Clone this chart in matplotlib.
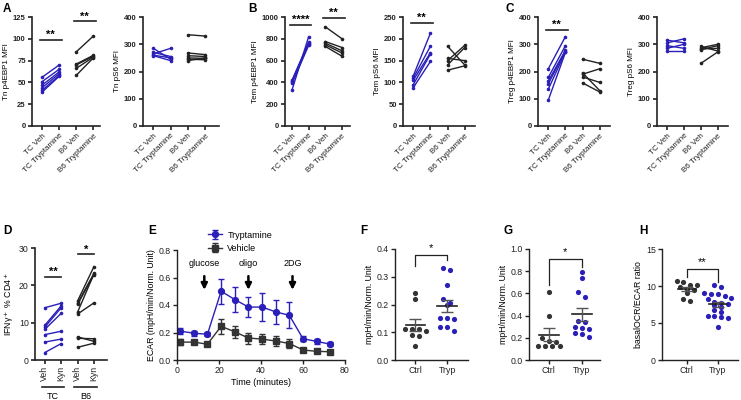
import matplotlib

matplotlib.use("Agg")
import matplotlib.pyplot as plt
import matplotlib.transforms as mtransforms
import numpy as np

plt.rcParams["font.family"] = ["Liberation Sans", "DejaVu Sans"]

BLUE = "#2A1FB8"
DARK = "#222222"
W, H = 741, 400

# ---- top row: paired MFI per donor (Veh -> Tryptamine) ----
PAIR_LABELS = ["TC Veh", "TC Tryptamine", "B6 Veh", "B6 Tryptamine"]

tn_4e_tc_veh = [56, 51, 47, 44, 41, 39]
tn_4e_tc_tryp = [70, 65, 62, 60, 58, 57]
tn_4e_b6_veh = [85, 71, 70, 66, 58]
tn_4e_b6_tryp = [103, 81, 80, 79, 78]

tn_s6_tc_veh = [285, 270, 265, 260, 258]
tn_s6_tc_tryp = [245, 255, 285, 250, 240]
tn_s6_b6_veh = [335, 268, 258, 250, 245, 240]
tn_s6_b6_tryp = [330, 262, 255, 248, 243, 250]

tem_4e_tc_veh = [420, 410, 400, 390, 330]
tem_4e_tc_tryp = [770, 760, 750, 740, 820]
tem_4e_b6_veh = [910, 775, 760, 745, 730]
tem_4e_b6_tryp = [800, 720, 690, 670, 640]

tem_s6_tc_veh = [115, 110, 105, 95, 88]
tem_s6_tc_tryp = [213, 183, 168, 165, 148]
tem_s6_b6_veh = [183, 155, 150, 140, 128]
tem_s6_b6_tryp = [140, 150, 185, 180, 138]

treg_4e_tc_veh = [210, 178, 165, 155, 135, 95]
treg_4e_tc_tryp = [328, 295, 278, 275, 272, 270]
treg_4e_b6_veh = [245, 195, 190, 180, 158]
treg_4e_b6_tryp = [230, 130, 210, 160, 125]

treg_s6_tc_veh = [315, 305, 295, 285, 275]
treg_s6_tc_tryp = [305, 320, 285, 300, 275]
treg_s6_b6_veh = [292, 287, 283, 280, 230]
treg_s6_b6_tryp = [275, 300, 285, 295, 272]

# ---- D: IFNg+ % CD4+ ----
D_LABELS = ["Veh", "Kyn", "Veh", "Kyn"]
ifng_tc_veh = [14.0, 9.3, 8.8, 8.2, 6.8, 4.8, 2.0]
ifng_tc_kyn = [15.2, 14.5, 14.0, 12.5, 7.7, 5.6, 4.4]
ifng_b6_veh = [15.8, 15.2, 14.9, 12.8, 12.3, 6.2, 5.8, 3.4]
ifng_b6_kyn = [25.0, 23.2, 22.8, 23.0, 15.3, 5.0, 5.7, 4.5]

# ---- E: ECAR time course ----
time_min = [1.5, 8, 14.5, 21, 27.5, 34, 40.5, 47, 53.5, 60, 66.5, 73]
tryp_ecar = [0.21, 0.195, 0.187, 0.50, 0.44, 0.385, 0.385, 0.35, 0.325, 0.155, 0.135, 0.115]
tryp_sem = [0.02, 0.018, 0.015, 0.09, 0.09, 0.075, 0.10, 0.09, 0.095, 0.02, 0.015, 0.015]
veh_ecar = [0.13, 0.13, 0.115, 0.245, 0.205, 0.16, 0.152, 0.138, 0.12, 0.073, 0.063, 0.06]
veh_sem = [0.02, 0.015, 0.015, 0.055, 0.045, 0.04, 0.035, 0.035, 0.035, 0.015, 0.012, 0.012]
injections = [("glucose", 13), ("oligo", 34), ("2DG", 55)]

# ---- F, G, H: Ctrl vs Tryp dot plots ----
f_ctrl = [0.24, 0.22, 0.113, 0.112, 0.11, 0.105, 0.09, 0.087, 0.05]
f_tryp = [0.33, 0.325, 0.27, 0.22, 0.205, 0.2, 0.15, 0.15, 0.148, 0.12, 0.12, 0.105]
g_ctrl = [0.61, 0.40, 0.20, 0.17, 0.16, 0.13, 0.13, 0.13, 0.13]
g_tryp = [0.79, 0.74, 0.61, 0.57, 0.35, 0.34, 0.30, 0.29, 0.28, 0.24, 0.23, 0.21]
h_ctrl = [10.7, 10.6, 10.2, 10.1, 9.9, 9.6, 9.5, 9.0, 8.3, 8.0]
h_tryp = [10.1, 9.8, 9.0, 8.9, 8.9, 8.7, 8.4, 8.2, 7.8, 7.7, 7.6, 7.5, 7.2,
          6.8, 6.5, 6.0, 6.0, 5.8, 5.7, 4.4]


def _axes(fig, left, right, top, bottom):
    return fig.add_axes([left / W, 1 - bottom / H, (right - left) / W, (bottom - top) / H])


def _style(ax, lw=1.2, bold=False, size=5.5):
    for s in ("top", "right"):
        ax.spines[s].set_visible(False)
    for s in ("left", "bottom"):
        ax.spines[s].set_linewidth(lw)
        ax.spines[s].set_color(DARK)
    ax.tick_params(length=3, width=lw, labelsize=size, pad=1.5, colors=DARK)
    if bold:
        for t in ax.get_yticklabels():
            t.set_fontweight("bold")


def _sig(ax, x0, x1, y, text, size=8):
    ax.plot([x0, x1], [y, y], color=DARK, lw=1.2, clip_on=False)
    ax.text((x0 + x1) / 2, y, text, ha="center", va="bottom", fontsize=size,
            fontweight="bold", clip_on=False)


def paired(ax, groups, labels, ymax, step, ylabel, sigs, xlim=(-0.5, 3.45), bold=True):
    for (veh, trt), x, color in zip(groups, [0, 2], [BLUE, DARK]):
        for a, b in zip(veh, trt):
            ax.plot([x, x + 1], [a, b], "-o", color=color, lw=1.0, ms=2.6, mew=0)
    ax.set_xlim(*xlim)
    ax.set_ylim(0, ymax)
    ax.set_yticks(np.arange(0, ymax + step / 2, step))
    ax.set_xticks(range(4))
    ax.set_ylabel(ylabel, fontsize=5.8, labelpad=2)
    _style(ax, bold=bold)
    for x0, x1, y, text in sigs:
        _sig(ax, x0, x1, y, text)
    return ax


def _swarm(values, thr, dx):
    vals = np.asarray(values, float)
    order = np.argsort(vals)[::-1]
    offs = np.zeros(len(vals))
    groups, cur = [], [order[0]]
    for i in order[1:]:
        if vals[cur[0]] - vals[i] < thr:
            cur.append(i)
        else:
            groups.append(cur)
            cur = [i]
    groups.append(cur)
    for g in groups:
        for k, i in enumerate(g):
            offs[i] = (k - (len(g) - 1) / 2) * dx
    return offs


def dots(ax, ctrl, tryp, ymax, step, ylabel, bracket, xlim, fmt="{:.1f}"):
    for x, vals, color in [(0, ctrl, "#333333"), (1, tryp, BLUE)]:
        offs = _swarm(vals, ymax * 0.045, 0.22)
        ax.scatter(x + offs, vals, s=14, color=color, lw=0, zorder=3)
        m = np.mean(vals)
        sem = np.std(vals, ddof=1) / np.sqrt(len(vals))
        ax.plot([x - 0.3, x + 0.3], [m, m], color=DARK, lw=1.2, zorder=4)
        ax.errorbar(x, m, yerr=sem, color="#555555", capsize=4, lw=1.0, capthick=1.0, zorder=4)
    y_top, y_l, y_r, text = bracket
    ax.plot([0, 0, 1, 1], [y_l, y_top, y_top, y_r], color=DARK, lw=0.9)
    ax.text(0.5, y_top + ymax * 0.02, text, ha="center", va="bottom", fontsize=8)
    ax.set_xlim(*xlim)
    ax.set_ylim(0, ymax)
    ax.set_yticks(np.arange(0, ymax + step / 2, step))
    ax.set_yticklabels([fmt.format(v) for v in ax.get_yticks()])
    ax.set_xticks([0, 1])
    ax.set_xticklabels(["Ctrl", "Tryp"])
    ax.set_ylabel(ylabel, fontsize=6.3, labelpad=2)
    _style(ax, lw=1.0, size=6.3)


fig = plt.figure(figsize=(W / 100, H / 100), dpi=100)

# ---- top row ----
top, bot = 17, 126
a1 = paired(_axes(fig, 32, 100, top, bot),
            [(tn_4e_tc_veh, tn_4e_tc_tryp), (tn_4e_b6_veh, tn_4e_b6_tryp)],
            PAIR_LABELS, 125, 25, "Tn p4EBP1 MFI",
            [(-0.15, 1.15, 99, "**"), (1.85, 3.15, 120, "**")], xlim=(-0.6, 3.4))
a2 = paired(_axes(fig, 143, 219, top, bot),
            [(tn_s6_tc_veh, tn_s6_tc_tryp), (tn_s6_b6_veh, tn_s6_b6_tryp)],
            PAIR_LABELS, 400, 100, "Tn pS6 MFI", [], xlim=(-0.6, 3.8))
b1 = paired(_axes(fig, 285, 350, top, bot),
            [(tem_4e_tc_veh, tem_4e_tc_tryp), (tem_4e_b6_veh, tem_4e_b6_tryp)],
            PAIR_LABELS, 1000, 200, "Tem p4EBP1 MFI",
            [(-0.15, 1.15, 926, "****"), (1.85, 3.15, 988, "**")], xlim=(-0.42, 3.48))
b2 = paired(_axes(fig, 403, 475, top, bot),
            [(tem_s6_tc_veh, tem_s6_tc_tryp), (tem_s6_b6_veh, tem_s6_b6_tryp)],
            PAIR_LABELS, 250, 50, "Tem pS6 MFI",
            [(-0.15, 1.15, 237, "**")], xlim=(-0.6, 3.6))
c1 = paired(_axes(fig, 538, 610, top, bot),
            [(treg_4e_tc_veh, treg_4e_tc_tryp), (treg_4e_b6_veh, treg_4e_b6_tryp)],
            PAIR_LABELS, 400, 100, "Treg p4EBP1 MFI",
            [(-0.15, 1.15, 352, "**")], xlim=(-0.6, 3.6))
c2 = paired(_axes(fig, 657, 728, top, bot),
            [(treg_s6_tc_veh, treg_s6_tc_tryp), (treg_s6_b6_veh, treg_s6_b6_tryp)],
            PAIR_LABELS, 400, 100, "Treg pS6 MFI", [], xlim=(-0.6, 3.6))
for ax in (a1, a2, b1, b2, c1, c2):
    ax.set_xticklabels(PAIR_LABELS, rotation=45, ha="right", rotation_mode="anchor", fontsize=5.8)

# ---- D ----
d = paired(_axes(fig, 35, 107, 248, 360),
           [(ifng_tc_veh, ifng_tc_kyn), (ifng_b6_veh, ifng_b6_kyn)],
           D_LABELS, 30, 10, "IFNγ$^+$ % CD4$^+$",
           [], xlim=(-0.6, 3.8), bold=False)
d.set_xticklabels(D_LABELS, rotation=90, fontsize=6.3)
d.tick_params(labelsize=6.3)
d.set_ylabel("IFNγ$^+$ % CD4$^+$", fontsize=6.3, labelpad=2)
_sig(d, 0, 1, 22.3, "**")
_sig(d, 2, 3, 28.3, "*")
trans = mtransforms.blended_transform_factory(d.transData, d.transAxes)
for x0, x1, name in [(-0.2, 1.2, "TC"), (1.8, 3.2, "B6")]:
    d.plot([x0, x1], [-0.24, -0.24], color=DARK, lw=1.2, transform=trans, clip_on=False)
    d.text((x0 + x1) / 2, -0.33, name, ha="center", va="center", fontsize=6.5, transform=trans)

# ---- E ----
e = _axes(fig, 177, 345, 250, 360)
e.errorbar(time_min, tryp_ecar, yerr=tryp_sem, fmt="-o", color=BLUE, ms=4.2, lw=1.0,
           capsize=2.5, elinewidth=1.0, label="Tryptamine")
e.errorbar(time_min, veh_ecar, yerr=veh_sem, fmt="-s", color="#333333", ms=4.2, lw=1.0,
           capsize=2.5, elinewidth=1.0, label="Vehicle")
for name, t in injections:
    e.annotate("", xy=(t, 0.49), xytext=(t, 0.63),
               arrowprops=dict(arrowstyle="-|>", lw=1.8, color="black", mutation_scale=9))
    e.text(t, 0.67, name, ha="center", va="bottom", fontsize=6.5)
e.set_xlim(0, 80)
e.set_ylim(0, 0.8)
e.set_xticks([0, 20, 40, 60, 80])
e.set_yticks(np.arange(0, 0.81, 0.2))
e.set_yticklabels([f"{v:.1f}" for v in np.arange(0, 0.81, 0.2)])
e.set_xlabel("Time (minutes)", fontsize=6.5, labelpad=2)
e.set_ylabel("ECAR (mpH/min/Norm. Unit)", fontsize=6.3, labelpad=2)
_style(e, lw=1.0, size=6.3)
fig.legend(*e.get_legend_handles_labels(), loc="upper left",
           bbox_to_anchor=(203 / W, 1 - 226 / H), frameon=False, fontsize=6.5,
           handlelength=1.6, labelspacing=0.5, handletextpad=0.6, borderpad=0)

# ---- F, G, H ----
f = _axes(fig, 395, 468, 249, 360)
dots(f, f_ctrl, f_tryp, 0.4, 0.1, "mpH/min/Norm. Unit", (0.379, 0.337, 0.36, "*"),
     (-0.63, 1.66))
g = _axes(fig, 529, 600, 249, 360)
dots(g, g_ctrl, g_tryp, 1.0, 0.2, "mpH/min/Norm. Unit", (0.91, 0.68, 0.84, "*"),
     (-0.6, 1.55))
h = _axes(fig, 662, 738, 249, 360)
dots(h, h_ctrl, h_tryp, 15, 5, "basalOCR/ECAR ratio", (12.3, 11.2, 10.5, "**"),
     (-0.8, 1.65), fmt="{:.0f}")

# ---- panel letters ----
for x, y, letter in [(3, 3, "A"), (248, 3, "B"), (505, 3, "C"), (3, 225, "D"),
                     (148, 225, "E"), (360, 225, "F"), (503, 225, "G"), (639, 225, "H")]:
    fig.text(x / W, 1 - y / H, letter, fontsize=8.5, fontweight="bold", va="top", ha="left")

fig.savefig("out.png", dpi=100)
